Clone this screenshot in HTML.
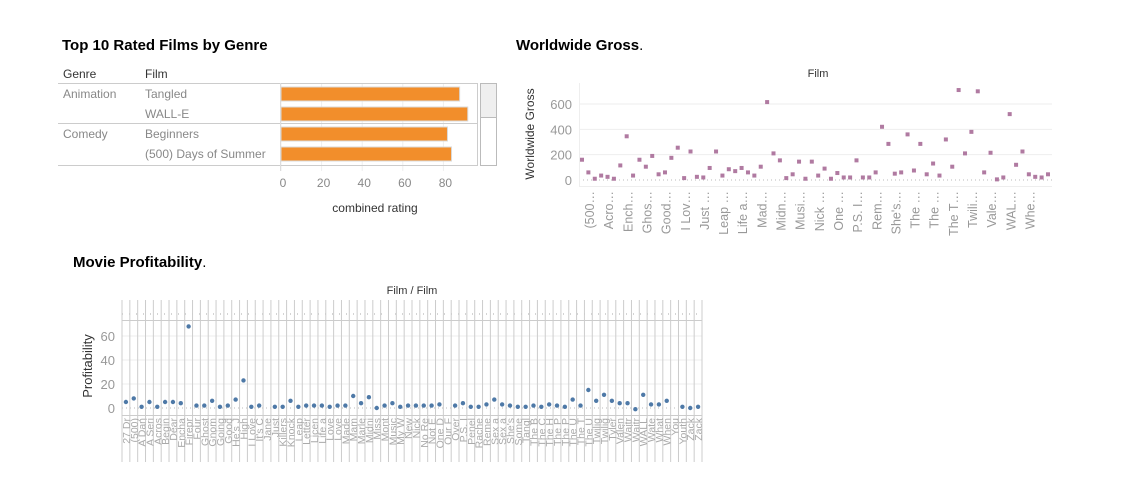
<!DOCTYPE html>
<html><head><meta charset="utf-8"><style>
body{margin:0;background:#fff;font-family:"Liberation Sans",sans-serif}
svg{display:block}
</style></head><body>
<svg id="s" width="1142" height="484" xmlns="http://www.w3.org/2000/svg" font-family="Liberation Sans, sans-serif">
<text x="62" y="50" font-size="15" font-weight="bold" fill="#000">Top 10 Rated Films by Genre</text>
<text x="516" y="50" font-size="15" fill="#000"><tspan font-weight="bold">Worldwide Gross</tspan>.</text>
<text x="73" y="267" font-size="15" fill="#000"><tspan font-weight="bold">Movie Profitability</tspan>.</text>
<g id="bar"></g>
<g id="gross"></g>
<g id="prof"></g>
</svg>
<script>
const barGenres=["Animation","","Comedy",""];
const barFilms=["Tangled","WALL-E","Beginners","(500) Days of Summer"];
const barValues=[88,92,82,84];
const barTicks=[0,20,40,60,80];

const grossValues=[160,60,10,35,25,10,115,345,35,160,105,190,45,60,175,255,15,225,25,20,95,225,35,85,70,95,60,35,105,615,210,155,15,45,145,10,145,35,90,10,55,20,20,155,20,20,60,420,285,50,60,360,75,285,45,130,35,320,105,710,210,380,700,60,215,5,20,520,120,225,45,25,20,45];
const grossLabels=["(500…","Acro…","Ench…","Ghos…","Good…","I Lov…","Just …","Leap …","Life a…","Mad…","Midn…","Musi…","Nick …","One …","P.S. I…","Rem…","She's…","The …","The …","The T…","Twili…","Vale…","WAL…","Whe…"];
const grossTicks=[0,200,400,600];

const profFilms=["27 Dr","(500)","A Dan","A Seri","Acros","Begin","Dear","Encha","Firepr","Four","Ghost","Gnom","Going","Good","He's J","High","I Love","It's C","Jane","Just","Killers","Knock","Leap","Letter","Licen","Life a","Love","Love","Made","Mam","Marle","Midni","Miss","Mont","Music","My W","New","Nick","No Re","Not E","One D","Our F","Over","P.S. I","Penel","Rache","Reme","Sex a","Sex a","She's","Some","Tangl","The B","The C","The H","The P","The P","The U","The T","The U","Twilig","Twilig","Tyler","Valen","Waitr","Waitr","WALL","Wate","What","When","You","Youth","Zack","Zack"];
const profValues=[5,8,1,5,1,5,5,4,68,2,2,6,1,2,7,23,1,2,null,1,1,6,1,2,2,2,1,2,2,10,4,9,0,2,4,1,2,2,2,2,3,null,2,4,1,1,3,7,3,2,1,1,2,1,3,2,1,7,2,15,6,11,6,4,4,-1,11,3,3,6,null,1,0,1];
const profTicks=[0,20,40,60];

const NS="http://www.w3.org/2000/svg";
function mk(p,t,a,txt){const e=document.createElementNS(NS,t);for(const k in a)e.setAttribute(k,a[k]);if(txt!==undefined)e.textContent=txt;p.appendChild(e);return e;}

// ---- bar chart
(function(){
const g=document.getElementById('bar');
const x0=281,sx=2.03,rowY=[87,107,127,147];
const bx=v=>x0+v*sx;
let t;
t=mk(g,'text',{x:63,y:78,'font-size':12,fill:'#333'},'Genre');

t=mk(g,'text',{x:145,y:78,'font-size':12,fill:'#333'},'Film');

barTicks.forEach(v=>{mk(g,'line',{x1:bx(v),x2:bx(v),y1:83,y2:171,stroke:'#eee'});
 t=mk(g,'text',{x:bx(v)+2,y:187,'font-size':12,fill:'#888','text-anchor':'middle'},v);
 });
mk(g,'line',{x1:58,x2:478,y1:83.5,y2:83.5,stroke:'#ccc'});
mk(g,'line',{x1:58,x2:478,y1:123.5,y2:123.5,stroke:'#ccc'});
mk(g,'line',{x1:58,x2:478,y1:165.5,y2:165.5,stroke:'#ccc'});
mk(g,'line',{x1:280.5,x2:280.5,y1:83,y2:171,stroke:'#ddd'});
mk(g,'line',{x1:477.5,x2:477.5,y1:83,y2:166,stroke:'#ccc'});
barValues.forEach((v,i)=>{
 if(barGenres[i]){t=mk(g,'text',{x:63,y:rowY[i]+11,'font-size':12,fill:'#888'},barGenres[i]);
  }
 t=mk(g,'text',{x:145,y:rowY[i]+11,'font-size':12,fill:'#888'},barFilms[i]);
 
 const r=mk(g,'rect',{x:x0,y:rowY[i],width:bx(v)-x0,height:14,fill:'#f28e2b',stroke:'#d9d9d9','stroke-width':1});
 
});
const sb=mk(g,'rect',{x:480.5,y:83.5,width:16,height:82,fill:'#fff',stroke:'#bbb'});

const th=mk(g,'rect',{x:480.5,y:83.5,width:16,height:34,fill:'#efefef',stroke:'#bbb'});

t=mk(g,'text',{x:375,y:212,'font-size':12,fill:'#333','text-anchor':'middle'},'combined rating');

})();

// ---- gross chart
(function(){
const g=document.getElementById('gross');
const x0=582,dx=(1048-582)/(grossValues.length-1);
const gy=v=>180-v*0.1267;
let t;
grossTicks.forEach(v=>{mk(g,'line',{x1:579,x2:1052,y1:gy(v),y2:gy(v),stroke:v?'#eee':'#bbb','stroke-dasharray':v?'':'1,3'});
 t=mk(g,'text',{x:572,y:gy(v)+5,'font-size':13,fill:'#999','text-anchor':'end'},v);
 });
mk(g,'line',{x1:579,x2:1052,y1:186.5,y2:186.5,stroke:'#eee'});
mk(g,'line',{x1:579.5,x2:579.5,y1:83,y2:186,stroke:'#eee'});
grossValues.forEach((v,i)=>{const r=mk(g,'rect',{x:x0+i*dx-2,y:gy(v)-2,width:4,height:4,fill:'#b07aa1'});
 });
grossLabels.forEach((l,k)=>{const x=x0+3*k*dx+12;
 t=mk(g,'text',{x:0,y:0,'font-size':12.5,fill:'#999','text-anchor':'end',transform:`translate(${x},191) rotate(-90)`},l);
 });
t=mk(g,'text',{x:0,y:0,'font-size':12,fill:'#333','text-anchor':'middle',transform:'translate(534,134) rotate(-90)'},'Worldwide Gross');

t=mk(g,'text',{x:818,y:77,'font-size':11,fill:'#333','text-anchor':'middle'},'Film');

})();

// ---- profitability chart
(function(){
const g=document.getElementById('prof');
const L=122,R=702,n=profValues.length,cw=(R-L)/n;
const py=v=>408-v*1.2;
let t;
profTicks.forEach(v=>{mk(g,'line',{x1:L,x2:R,y1:py(v),y2:py(v),stroke:v?'#eee':'#bbb','stroke-dasharray':v?'':'1,3'});
 t=mk(g,'text',{x:115,y:py(v)+5,'font-size':13,fill:'#999','text-anchor':'end'},v);
 });
mk(g,'line',{x1:L,x2:R,y1:314,y2:314,stroke:'#aaa','stroke-dasharray':'1,6'});
mk(g,'line',{x1:L,x2:R,y1:320.5,y2:320.5,stroke:'#ccc'});
mk(g,'line',{x1:L,x2:R,y1:415.5,y2:415.5,stroke:'#ccc'});
for(let i=0;i<=n;i++){mk(g,'line',{x1:L+i*cw,x2:L+i*cw,y1:300,y2:462,stroke:'#ccc'});}
profValues.forEach((v,i)=>{const cx=L+(i+0.5)*cw;
 if(v!==null){const c=mk(g,'circle',{cx:cx,cy:py(v),r:2.2,fill:'#4e79a7'});
  }
 t=mk(g,'text',{x:0,y:0,'font-size':10.5,fill:'#aaa','text-anchor':'end',transform:`translate(${cx+4},418) rotate(-90)`},profFilms[i]);
 
});
t=mk(g,'text',{x:0,y:0,'font-size':13,fill:'#333','text-anchor':'middle',transform:'translate(92,366) rotate(-90)'},'Profitability');

t=mk(g,'text',{x:412,y:294,'font-size':11,fill:'#333','text-anchor':'middle'},'Film / Film');

})();
</script>
</body></html>
